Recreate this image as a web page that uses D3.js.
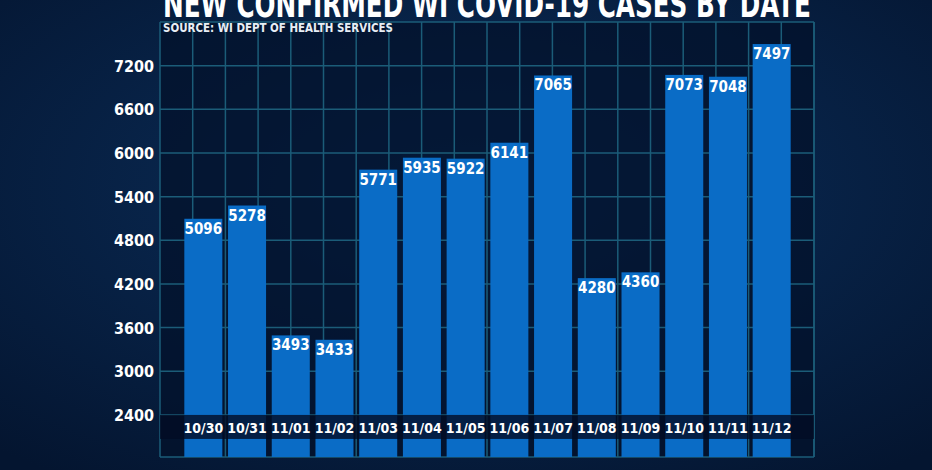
<!DOCTYPE html>
<html><head><meta charset="utf-8">
<script src="https://cdn.jsdelivr.net/npm/d3@7"></script>
<style>body{margin:0;background:#04152e;} text{font-family:"Liberation Sans Narrow","DejaVu Sans Condensed",sans-serif;font-weight:bold;}</style>
</head><body><div id="chart"></div>
<script>
// Data
const dates = ['10/30','10/31','11/01','11/02','11/03','11/04','11/05','11/06','11/07','11/08','11/09','11/10','11/11','11/12'];
const cases = [5096,5278,3493,3433,5771,5935,5922,6141,7065,4280,4360,7073,7048,7497];
const yTicks = [2400,3000,3600,4200,4800,5400,6000,6600,7200];

const width = 932, height = 470;
const svg = d3.select('#chart').append('svg').attr('width', width).attr('height', height);

// Background
const defs = svg.append('defs');
const bg = defs.append('radialGradient').attr('id','bg').attr('cx','50%').attr('cy','40%').attr('r','75%');
bg.append('stop').attr('offset','0%').attr('stop-color','#0b2f5c');
bg.append('stop').attr('offset','100%').attr('stop-color','#041530');
svg.append('rect').attr('width', width).attr('height', height).attr('fill','url(#bg)');

const pLeft = 160, pRight = 814, pTop = 22, pBottom = 457;
const y = d3.scaleLinear().domain([1822, 7800]).range([pBottom, pTop]);
const x = d3.scaleBand().domain(dates).range([183, 792]).paddingInner(0.13).paddingOuter(0.03);

svg.append('rect').attr('x', pLeft).attr('y', pTop).attr('width', pRight-pLeft).attr('height', pBottom-pTop)
  .attr('fill','#03122b').attr('opacity',0.75);

// Grid
const grid = svg.append('g').attr('stroke','#1b5c78').attr('stroke-width',1.5);
grid.selectAll('.h').data([7800, ...yTicks, 1822]).join('line')
  .attr('x1', pLeft).attr('x2', pRight).attr('y1', d => y(d)).attr('y2', d => y(d));
grid.selectAll('.v').data(d3.range(pLeft, pRight + 1, 32.7)).join('line')
  .attr('y1', pTop).attr('y2', pBottom).attr('x1', d => d).attr('x2', d => d);
grid.append('line').attr('x1', pRight).attr('x2', pRight).attr('y1', pTop).attr('y2', pBottom);

// Bars
svg.append('g').selectAll('rect').data(cases).join('rect')
  .attr('fill','#0a6cc6')
  .attr('x', (d,i) => x(dates[i])).attr('width', x.bandwidth())
  .attr('y', d => y(d)).attr('height', d => pBottom - y(d));

svg.append('g').selectAll('text').data(cases).join('text')
  .attr('fill','#fff').attr('font-size',15).attr('text-anchor','middle')
  .attr('x', (d,i) => x(dates[i]) + x.bandwidth()/2).attr('y', d => y(d) + 15)
  .text(d => d);

// Date band
svg.append('rect').attr('x', pLeft).attr('y', y(2400)).attr('width', pRight-pLeft).attr('height', 24)
  .attr('fill','#020c24').attr('opacity',0.8);
svg.append('g').selectAll('text').data(dates).join('text')
  .attr('fill','#fff').attr('font-size',14).attr('text-anchor','middle')
  .attr('x', d => x(d) + x.bandwidth()/2).attr('y', y(2400) + 18)
  .text(d => d);

// Y axis
const yAxis = svg.append('g').attr('transform', `translate(${pLeft-6},0)`)
  .call(d3.axisLeft(y).tickValues(yTicks).tickFormat(d3.format('d')).tickSize(0).tickPadding(0));
yAxis.select('.domain').remove();
yAxis.selectAll('text').attr('fill','#fff').attr('font-size',16).attr('dy','0.35em');

// Titles
svg.append('text').attr('x', 163).attr('y', 17).attr('fill','#fff').attr('font-size',38)
  .attr('textLength', 648).attr('lengthAdjust','spacingAndGlyphs')
  .text('NEW CONFIRMED WI COVID-19 CASES BY DATE');
svg.append('text').attr('x', 163).attr('y', 32).attr('fill','#e8eef5').attr('font-size',12)
  .attr('textLength', 230).attr('lengthAdjust','spacingAndGlyphs')
  .text('SOURCE: WI DEPT OF HEALTH SERVICES');
</script>
</body></html>
